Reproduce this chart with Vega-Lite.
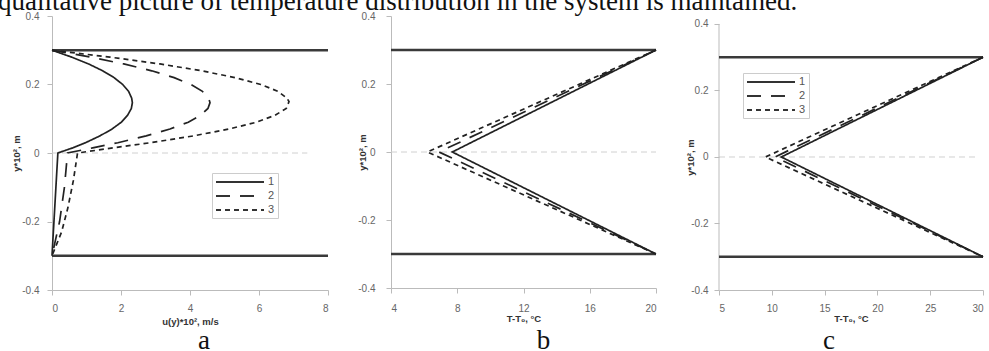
{
  "$schema": "https://vega.github.io/schema/vega-lite/v6.json",
  "padding": {"left": -2, "top": -12, "right": 0, "bottom": -4},
  "title": {"text": "qualitative picture of temperature distribution in the system is maintained.", "anchor": "start", "font": "Liberation Serif", "fontSize": 27, "fontWeight": "normal", "color": "#111", "dx": -13, "offset": -5},
  "spacing": 63,
  "bounds": "flush",
  "resolve": {"scale": {"strokeDash": "independent"}, "legend": {"strokeDash": "independent"}},
  "datasets": {
    "curvesA": [
      {"s": "1", "o": 1, "x": 0, "y": 0.3}, {"s": "1", "o": 2, "x": 0.57, "y": 0.28}, {"s": "1", "o": 3, "x": 1.06, "y": 0.26}, {"s": "1", "o": 4, "x": 1.47, "y": 0.24}, {"s": "1", "o": 5, "x": 1.8, "y": 0.22}, {"s": "1", "o": 6, "x": 2.05, "y": 0.2}, {"s": "1", "o": 7, "x": 2.22, "y": 0.18}, {"s": "1", "o": 8, "x": 2.31, "y": 0.16}, {"s": "1", "o": 9, "x": 2.33, "y": 0.147}, {"s": "1", "o": 10, "x": 2.3, "y": 0.13}, {"s": "1", "o": 11, "x": 2.19, "y": 0.11}, {"s": "1", "o": 12, "x": 2.01, "y": 0.09}, {"s": "1", "o": 13, "x": 1.74, "y": 0.07}, {"s": "1", "o": 14, "x": 1.39, "y": 0.05}, {"s": "1", "o": 15, "x": 0.97, "y": 0.03}, {"s": "1", "o": 16, "x": 0.6, "y": 0.015}, {"s": "1", "o": 17, "x": 0.17, "y": 0}, {"s": "1", "o": 18, "x": 0, "y": -0.3},
      {"s": "2", "o": 1, "x": 0, "y": 0.3}, {"s": "2", "o": 2, "x": 1.12, "y": 0.28}, {"s": "2", "o": 3, "x": 2.08, "y": 0.26}, {"s": "2", "o": 4, "x": 2.89, "y": 0.24}, {"s": "2", "o": 5, "x": 3.54, "y": 0.22}, {"s": "2", "o": 6, "x": 4.03, "y": 0.2}, {"s": "2", "o": 7, "x": 4.36, "y": 0.18}, {"s": "2", "o": 8, "x": 4.54, "y": 0.16}, {"s": "2", "o": 9, "x": 4.58, "y": 0.147}, {"s": "2", "o": 10, "x": 4.52, "y": 0.13}, {"s": "2", "o": 11, "x": 4.31, "y": 0.11}, {"s": "2", "o": 12, "x": 3.95, "y": 0.09}, {"s": "2", "o": 13, "x": 3.42, "y": 0.07}, {"s": "2", "o": 14, "x": 2.73, "y": 0.05}, {"s": "2", "o": 15, "x": 1.91, "y": 0.03}, {"s": "2", "o": 16, "x": 1.18, "y": 0.015}, {"s": "2", "o": 17, "x": 0.45, "y": 0}, {"s": "2", "o": 18, "x": 0.36, "y": -0.1}, {"s": "2", "o": 19, "x": 0.22, "y": -0.2}, {"s": "2", "o": 20, "x": 0, "y": -0.3},
      {"s": "3", "o": 1, "x": 0, "y": 0.3}, {"s": "3", "o": 2, "x": 1.68, "y": 0.28}, {"s": "3", "o": 3, "x": 3.13, "y": 0.26}, {"s": "3", "o": 4, "x": 4.34, "y": 0.24}, {"s": "3", "o": 5, "x": 5.31, "y": 0.22}, {"s": "3", "o": 6, "x": 6.05, "y": 0.2}, {"s": "3", "o": 7, "x": 6.55, "y": 0.18}, {"s": "3", "o": 8, "x": 6.81, "y": 0.16}, {"s": "3", "o": 9, "x": 6.87, "y": 0.15}, {"s": "3", "o": 10, "x": 6.79, "y": 0.13}, {"s": "3", "o": 11, "x": 6.46, "y": 0.11}, {"s": "3", "o": 12, "x": 5.93, "y": 0.09}, {"s": "3", "o": 13, "x": 5.13, "y": 0.07}, {"s": "3", "o": 14, "x": 4.1, "y": 0.05}, {"s": "3", "o": 15, "x": 2.86, "y": 0.03}, {"s": "3", "o": 16, "x": 1.77, "y": 0.015}, {"s": "3", "o": 17, "x": 0.74, "y": 0}, {"s": "3", "o": 18, "x": 0.62, "y": -0.08}, {"s": "3", "o": 19, "x": 0.46, "y": -0.16}, {"s": "3", "o": 20, "x": 0.28, "y": -0.23}, {"s": "3", "o": 21, "x": 0, "y": -0.3}
    ],
    "curvesB": [
      {"s": "1", "o": 1, "x": 20, "y": 0.3}, {"s": "1", "o": 2, "x": 7.7, "y": 0}, {"s": "1", "o": 3, "x": 20, "y": -0.3},
      {"s": "2", "o": 1, "x": 20, "y": 0.3}, {"s": "2", "o": 2, "x": 6.9, "y": 0}, {"s": "2", "o": 3, "x": 20, "y": -0.3},
      {"s": "3", "o": 1, "x": 20, "y": 0.3}, {"s": "3", "o": 2, "x": 6.2, "y": 0}, {"s": "3", "o": 3, "x": 20, "y": -0.3}
    ],
    "curvesC": [
      {"s": "1", "o": 1, "x": 30, "y": 0.3}, {"s": "1", "o": 2, "x": 10.9, "y": 0}, {"s": "1", "o": 3, "x": 30, "y": -0.3},
      {"s": "2", "o": 1, "x": 30, "y": 0.3}, {"s": "2", "o": 2, "x": 10.3, "y": 0}, {"s": "2", "o": 3, "x": 30, "y": -0.3},
      {"s": "3", "o": 1, "x": 30, "y": 0.3}, {"s": "3", "o": 2, "x": 9.4, "y": 0}, {"s": "3", "o": 3, "x": 30, "y": -0.3}
    ]
  },
  "hconcat": [
    {
      "width": 276, "height": 274,
      "title": {"text": "a", "orient": "bottom", "font": "Liberation Serif", "fontSize": 27, "fontWeight": "normal", "color": "#111", "baseline": "top", "offset": 2, "dx": 14},
      "layer": [
        {
          "data": {"values": [{"x": 0, "x2": 7.4, "y": 0}]},
          "mark": {"type": "rule", "strokeDash": [6, 4], "color": "#d0d0d0", "strokeWidth": 1},
          "encoding": {
            "x": {"field": "x", "type": "quantitative", "scale": {"domain": [0, 8], "nice": false}, "axis": {"title": "u(y)*10², m/s", "labelPadding": 8, "titleY": 31, "titleBaseline": "middle", "values": [0, 1, 2, 3, 4, 5, 6, 7, 8], "labelExpr": "datum.value % 2 == 0 ? datum.label : ''"}},
            "x2": {"field": "x2"},
            "y": {"field": "y", "type": "quantitative", "scale": {"domain": [-0.4, 0.4], "nice": false}, "axis": {"title": "y*10², m", "labelPadding": 8, "titleX": -36, "titleY": 137, "titleBaseline": "middle", "values": [-0.4, -0.3, -0.2, -0.1, 0, 0.1, 0.2, 0.3, 0.4], "labelExpr": "round(datum.value*10) % 2 == 0 ? toString(round(datum.value*10)/10) : ''"}}
          }
        },
        {
          "data": {"values": [{"x": 0, "x2": 8, "y": 0.3}, {"x": 0, "x2": 8, "y": -0.3}]},
          "mark": {"type": "rule", "color": "#3a3a3a", "strokeWidth": 2.5},
          "encoding": {"x": {"field": "x", "type": "quantitative"}, "x2": {"field": "x2"}, "y": {"field": "y", "type": "quantitative"}}
        },
        {
          "data": {"name": "curvesA"},
          "mark": {"type": "line", "color": "#222222", "strokeWidth": 1.7},
          "encoding": {
            "x": {"field": "x", "type": "quantitative"},
            "y": {"field": "y", "type": "quantitative"},
            "order": {"field": "o"},
            "strokeDash": {"field": "s", "type": "nominal", "scale": {"domain": ["1", "2", "3"], "range": [[1, 0], [14, 10], [5, 4]]},
              "legend": {"title": null, "orient": "none", "legendX": 160, "legendY": 157, "symbolType": "M-4.8,0H4.8", "symbolSize": 100, "symbolOffset": 19, "labelOffset": 22, "symbolStrokeWidth": 2, "symbolStrokeColor": "#333", "labelFont": "Liberation Sans", "labelFontSize": 11, "labelColor": "#555", "strokeColor": "#cccccc", "fillColor": "white", "padding": 3, "rowPadding": 3}}
          }
        }
      ]
    },
    {
      "width": 265, "height": 272,
      "title": {"text": "b", "orient": "bottom", "font": "Liberation Serif", "fontSize": 27, "fontWeight": "normal", "color": "#111", "baseline": "top", "offset": 5, "dx": 20},
      "layer": [
        {
          "data": {"values": [{"x": 4, "x2": 20, "y": 0}]},
          "mark": {"type": "rule", "strokeDash": [6, 4], "color": "#d0d0d0", "strokeWidth": 1},
          "encoding": {
            "x": {"field": "x", "type": "quantitative", "scale": {"domain": [4, 20], "nice": false}, "axis": {"title": "T-T₀, °C", "labelPadding": 10, "titleY": 30, "titleBaseline": "middle", "values": [4, 6, 8, 10, 12, 14, 16, 18, 20], "labelExpr": "datum.value % 4 == 0 ? datum.label : ''"}},
            "x2": {"field": "x2"},
            "y": {"field": "y", "type": "quantitative", "scale": {"domain": [-0.4, 0.4], "nice": false}, "axis": {"title": "y*10², m", "labelPadding": 11, "titleX": -29, "titleY": 136, "titleBaseline": "middle", "values": [-0.4, -0.3, -0.2, -0.1, 0, 0.1, 0.2, 0.3, 0.4], "labelExpr": "round(datum.value*10) % 2 == 0 ? toString(round(datum.value*10)/10) : ''"}}
          }
        },
        {
          "data": {"values": [{"x": 4, "x2": 20, "y": 0.3}, {"x": 4, "x2": 20, "y": -0.3}]},
          "mark": {"type": "rule", "color": "#3a3a3a", "strokeWidth": 2.5},
          "encoding": {"x": {"field": "x", "type": "quantitative"}, "x2": {"field": "x2"}, "y": {"field": "y", "type": "quantitative"}}
        },
        {
          "data": {"name": "curvesB"},
          "mark": {"type": "line", "color": "#222222", "strokeWidth": 1.7},
          "encoding": {
            "x": {"field": "x", "type": "quantitative"},
            "y": {"field": "y", "type": "quantitative"},
            "order": {"field": "o"},
            "strokeDash": {"field": "s", "type": "nominal", "scale": {"domain": ["1", "2", "3"], "range": [[1, 0], [14, 10], [5, 4]]}, "legend": null}
          }
        }
      ]
    },
    {
      "width": 264, "height": 274,
      "title": {"text": "c", "orient": "bottom", "font": "Liberation Serif", "fontSize": 27, "fontWeight": "normal", "color": "#111", "baseline": "top", "offset": 5, "dx": -22},
      "layer": [
        {
          "data": {"values": [{"x": 5, "x2": 29.3, "y": 0}]},
          "mark": {"type": "rule", "strokeDash": [6, 4], "color": "#d0d0d0", "strokeWidth": 1},
          "encoding": {
            "x": {"field": "x", "type": "quantitative", "scale": {"domain": [5, 30], "nice": false}, "axis": {"title": "T-T₀, °C", "labelPadding": 8, "titleY": 28, "titleBaseline": "middle", "values": [5, 7.5, 10, 12.5, 15, 17.5, 20, 22.5, 25, 27.5, 30], "labelExpr": "datum.value % 5 == 0 ? datum.label : ''"}},
            "x2": {"field": "x2"},
            "y": {"field": "y", "type": "quantitative", "scale": {"domain": [-0.4, 0.424], "nice": false, "zero": false}, "axis": {"title": "y*10², m", "domain": false, "labelPadding": 6, "titleX": -29, "titleY": 141, "titleBaseline": "middle", "values": [-0.4, -0.3, -0.2, -0.1, 0, 0.1, 0.2, 0.3, 0.4], "labelExpr": "round(datum.value*10) % 2 == 0 ? toString(round(datum.value*10)/10) : ''"}}
          }
        },
        {
          "data": {"values": [{"x": 5, "y": -0.4, "y2": 0.4}]},
          "mark": {"type": "rule", "color": "#bbbbbb", "strokeWidth": 1},
          "encoding": {"x": {"field": "x", "type": "quantitative"}, "y": {"field": "y", "type": "quantitative"}, "y2": {"field": "y2"}}
        },
        {
          "data": {"values": [{"x": 5, "x2": 30, "y": 0.3}, {"x": 5, "x2": 30, "y": -0.3}]},
          "mark": {"type": "rule", "color": "#3a3a3a", "strokeWidth": 2.5},
          "encoding": {"x": {"field": "x", "type": "quantitative"}, "x2": {"field": "x2"}, "y": {"field": "y", "type": "quantitative"}}
        },
        {
          "data": {"name": "curvesC"},
          "mark": {"type": "line", "color": "#222222", "strokeWidth": 1.7},
          "encoding": {
            "x": {"field": "x", "type": "quantitative"},
            "y": {"field": "y", "type": "quantitative"},
            "order": {"field": "o"},
            "strokeDash": {"field": "s", "type": "nominal", "scale": {"domain": ["1", "2", "3"], "range": [[1, 0], [14, 10], [5, 4]]},
              "legend": {"title": null, "orient": "none", "legendX": 24, "legendY": 57, "symbolType": "M-4.8,0H4.8", "symbolSize": 100, "symbolOffset": 19, "labelOffset": 22, "symbolStrokeWidth": 2, "symbolStrokeColor": "#333", "labelFont": "Liberation Sans", "labelFontSize": 11, "labelColor": "#555", "strokeColor": "#cccccc", "fillColor": "white", "padding": 3, "rowPadding": 3}}
          }
        }
      ]
    }
  ],
  "config": {
    "view": {"stroke": null},
    "axis": {"grid": false, "domainColor": "#bbbbbb", "tickColor": "#bbbbbb", "tickSize": 5, "labelFont": "Liberation Sans", "labelFontSize": 10, "labelColor": "#666666", "titleFont": "Liberation Sans", "titleFontSize": 9.5, "titleFontWeight": "bold", "titleColor": "#333333"}
  }
}
